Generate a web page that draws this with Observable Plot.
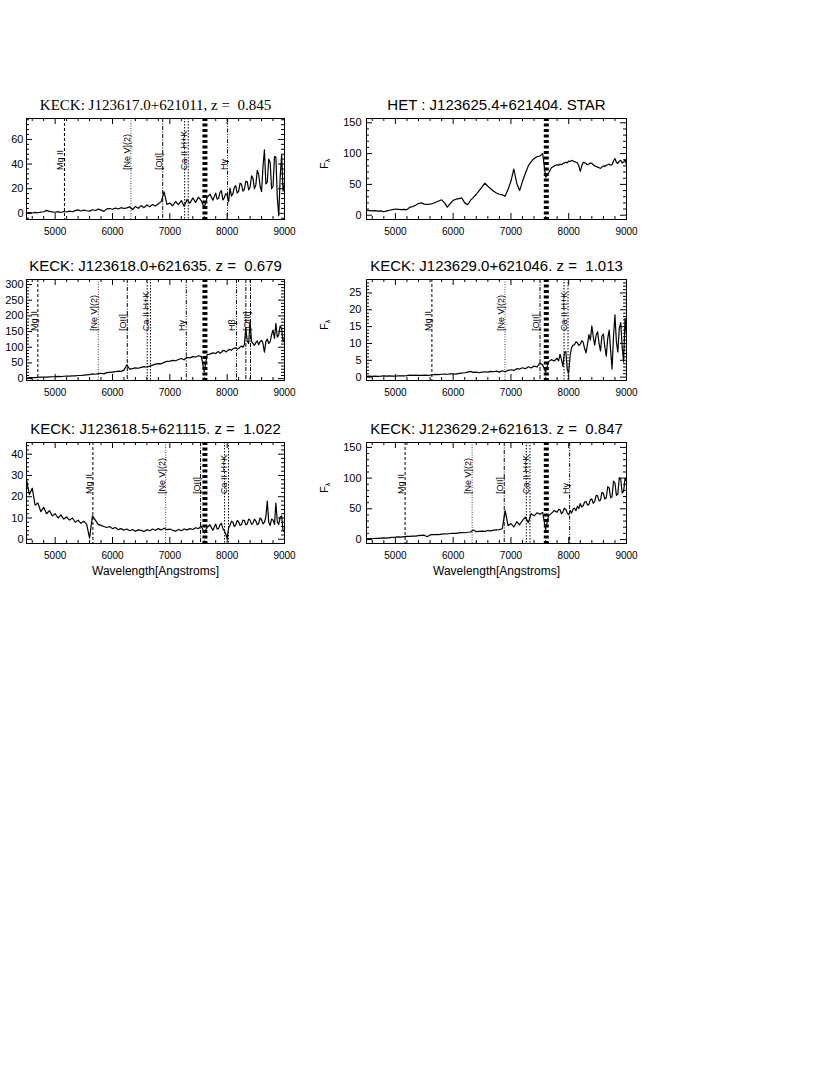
<!DOCTYPE html>
<html><head><meta charset="utf-8">
<script src="https://cdn.jsdelivr.net/npm/d3@7"></script>
<script src="https://cdn.jsdelivr.net/npm/@observablehq/plot@0.6"></script>
<style>
body{margin:0;background:#fff}
#root{position:relative;width:830px;height:1075px;background:#fff}
.panel{position:absolute}
</style>
</head><body><div id="root"></div>
<script>
// ---- data ----
const wavelength = [4500,4550,4600,4650,4700,4750,4800,4850,4900,4950,
  5000,5050,5100,5150,5200,5250,5300,5350,5400,5450,
  5500,5550,5600,5650,5700,5750,5800,5850,5900,5950,
  6000,6050,6100,6150,6200,6250,6300,6350,6400,6450,
  6500,6550,6600,6650,6700,6750,6800,6850,6900,6950,
  7000,7050,7100,7150,7200,7250,7300,7350,7400,7450,
  7500,7550,7600,7650,7700,7750,
  7800,7825,7850,7875, 7900,7925,7950,7975, 8000,8025,8050,8075, 8100,8125,8150,8175,
  8200,8225,8250,8275, 8300,8325,8350,8375, 8400,8425,8450,8475, 8500,8525,8550,8575,
  8600,8625,8650,8675, 8700,8725,8750,8775, 8800,8825,8850,8875, 8900,8925,8950,8975, 9000];

const flux1 = [0.4,0.6,0.3,0.8,0.5,1.0,1.3,2.4,1.6,1.2,
  0.9,1.4,0.7,1.5,1.1,1.8,1.3,2.2,2.8,1.9,
  2.6,2.1,1.8,2.9,2.3,3.4,2.6,1.6,3.6,3.9,
  3.3,4.2,3.5,4.6,3.9,4.4,5.2,3.1,5.6,4.1,
  6.3,4.6,6.8,5.4,7.2,5.9,7.8,9.5,17.5,7.2,
  8.4,6.2,9.6,7.1,10.4,5.8,11.2,8.3,12.5,8.9,
  13.2,10.1,4.5,12.8,15.6,10.7,
  16.4,11.5,12.2,17.0, 18.5,11.0,12.6,16.0, 14.8,9.5,20.5,14.0, 15.9,21.0,22.4,16.5,
  17.8,24.5,23.6,18.0, 19.5,26.0,25.8,19.0, 21.2,30.5,28.4,20.0, 23.1,35.0,31.5,22.0,
  17.6,38.0,51.5,24.0, 25.4,44.0,41.2,20.0, 21.8,46.0,45.6,12.0, -2.0,30.0,47.5,18.0, 24.0];
const flux2 = [8,7.5,7,7.5,6.5,7,5.5,7,8,9,
  10,9.5,9,9.5,9,13,14,16,19,20,
  18,17.5,18,19,21,23,25,20,13,19,
  24,26,27,28,20,17,24,29,34,40,
  46,52,47,43,39,36,34,33,31,42,
  55,75,52,40,55,68,80,87,92,95,
  96,100,62,68,77,80,
  82,81,83,82, 84,85,86,85, 88,87,89,88, 87,86,85,80,
  71,80,86,85, 84,82,83,85, 84,82,80,79, 78,77,76,78,
  80,79,81,82, 83,81,82,88, 92,86,84,88, 89,85,86,90, 82];
const flux3 = [2,3,3.5,3,4,4.5,5,4.5,5.5,6,
  6,7,6.5,7.5,8,8,9,8.5,10,10,
  11,12,13,15,14,16,17,15,19,20,
  21,22,24,23,27,44,30,32,34,33,
  36,38,37,40,43,46,48,47,52,55,
  56,58,57,61,64,60,68,66,70,69,
  73,70,22,76,78,82,
  80,84,86,81, 84,89,90,85, 88,92,93,90, 95,97,98,94,
  96,101,104,100, 108,160,120,112, 182,118,112,106, 115,120,108,118,
  122,112,84,118, 126,112,118,140, 155,128,176,132, 140,168,160,118, 128];
const flux4 = [0.2,0.3,0.2,0.3,0.25,0.3,0.4,0.3,0.35,0.3,
  0.3,0.4,0.35,0.4,0.45,0.6,0.5,0.6,0.55,0.5,
  0.6,0.55,0.6,0.7,0.8,0.75,0.85,0.9,0.85,0.95,
  1.0,0.9,1.1,1.2,1.3,1.5,1.7,1.4,1.5,1.3,
  1.5,1.6,1.5,1.7,1.6,1.8,1.5,1.9,1.6,2.0,
  2.2,2.0,2.5,2.4,2.8,2.5,3.1,2.7,3.3,3.0,
  4.2,3.6,1.5,4.6,5.2,4.8,
  5.6,4.8,6.8,5.2, 3.2,7.2,7.6,2.2, 1.2,6.5,8.8,9.5, 9.6,10.5,10.2,9.4,
  9.8,10.8,10.4,8.5, 7.2,9.8,12.6,11.0, 15.2,12.0,9.5,12.5, 13.5,10.0,7.8,12.2,
  12.8,9.0,6.2,11.5, 14.0,8.0,2.4,12.0, 18.5,10.5,7.5,14.5, 16.2,9.0,4.5,17.5, 12.5];
const flux5 = [28,21,24,16,17,13,15,12,13.5,11,
  12,10,11.5,9.5,10.5,9,10,8,9,7.5,
  8.5,7,0.5,11,9,7,6.5,6,5.5,6,
  5,5.5,4.5,5,4.2,4.8,4,4.6,3.8,4.4,
  4.2,3.6,4.5,4,4.8,4.2,5,4.4,5.2,4.5,
  4.8,4.2,3.8,4.6,4.0,4.8,4.4,5.0,4.6,5.4,
  5.0,6.2,3.0,5.5,6.8,4.2,
  7.2,4.8,5.0,6.8, 7.5,5.0,4.0,2.5, 0.5,5.5,6.5,8.5, 8.0,6.0,6.8,8.8,
  8.2,6.5,7.0,9.0, 8.8,6.8,7.2,9.5, 9.0,7.0,7.6,9.4, 8.6,6.8,7.4,10.0,
  9.2,7.2,8.0,10.5, 18.0,8.0,6.5,9.5, 9.0,7.0,17.0,8.0, 7.0,10.5,11.0,4.0, 3.5];
const flux6 = [1.0,1.5,1.2,2.0,1.8,2.4,2.6,2.4,3.2,3.6,
  3.8,4.2,4.0,4.6,5.0,5.2,5.6,5.4,6.2,6.6,
  7.0,4.5,7.4,7.8,8.2,8.0,8.8,9.2,9.0,9.8,
  10.2,10.0,10.8,11.2,11.0,11.8,12.2,15.5,12.8,13.4,
  13.8,13.2,14.6,14.0,15.2,15.8,16.2,17.5,47.0,22.5,
  26.0,20.5,29.0,24.0,31.0,36.5,27.5,42.0,38.5,43.5,
  41.0,44.0,16.0,38.5,42.5,47.0,
  44.5,49.0,48.5,42.0, 45.0,51.0,49.0,43.0, 40.5,47.0,43.0,49.5, 51.0,47.0,54.0,50.5,
  58.5,53.0,55.0,61.0, 62.0,56.0,57.5,65.0, 66.0,59.0,62.0,72.0, 71.0,63.0,64.0,77.0,
  75.0,66.0,68.0,86.0, 84.0,68.0,70.0,95.0, 92.0,72.0,74.0,101.0, 98.0,76.0,78.0,100.0, 95.0];
const fluxes = [flux1, flux2, flux3, flux4, flux5, flux6];

const titles = [
  "KECK: J123617.0+621011, z =  0.845",
  "HET : J123625.4+621404. STAR",
  "KECK: J123618.0+621635. z =  0.679",
  "KECK: J123629.0+621046. z =  1.013",
  "KECK: J123618.5+621115. z =  1.022",
  "KECK: J123629.2+621613. z =  0.847"
];
const yDomains = [[-5,77],[-7,157],[-6,316],[-1,29],[-2,45.5],[-6.5,158]];
const yTickValues = [[0,20,40,60],[0,50,100,150],[0,50,100,150,200,250,300],[0,5,10,15,20,25],[0,10,20,30,40],[0,50,100,150]];
const yMinorSteps = [4,10,10,1,2,10];
const xTickValues = [5000,6000,7000,8000,9000];
const xMinorStep = 200;
const yAxisTitle = "Fλ";
const xAxisTitle = "Wavelength[Angstroms]";

const lineWl1 = [5162,6321,6876,7258,7321,8007];
const lineLab1 = ["Mg II","[Ne V](2)","[OII]","","Ca II H+K","Hγ"];
const lineKind1 = ["mg","ne","o2","ca","ca","h"];
const lineWl2 = [];
const lineLab2 = [];
const lineKind2 = [];
const lineWl3 = [4698,5752,6258,6605,6662,7287,8162,8326,8407];
const lineLab3 = ["Mg II","[Ne V](2)","[OII]","","Ca II H+K","Hγ","Hβ","","[OIII]"];
const lineKind3 = ["mg","ne","o2","ca","ca","h","h","o3","o3"];
const lineWl4 = [5632,6897,7503,7919,7988];
const lineLab4 = ["Mg II","[Ne V](2)","[OII]","","Ca II H+K"];
const lineKind4 = ["mg","ne","o2","ca","ca"];
const lineWl5 = [5658,6927,7536,7955,8023];
const lineLab5 = ["Mg II","[Ne V](2)","[OII]","","Ca II H+K"];
const lineKind5 = ["mg","ne","o2","ca","ca"];
const lineWl6 = [5168,6328,6884,7266,7329,8016];
const lineLab6 = ["Mg II","[Ne V](2)","[OII]","","Ca II H+K","Hγ"];
const lineKind6 = ["mg","ne","o2","ca","ca","h"];
const lineWls = [lineWl1,lineWl2,lineWl3,lineWl4,lineWl5,lineWl6];
const lineLabs = [lineLab1,lineLab2,lineLab3,lineLab4,lineLab5,lineLab6];
const lineKinds = [lineKind1,lineKind2,lineKind3,lineKind4,lineKind5,lineKind6];
const aBandWl = [7612];

const dashStyles = {mg:"3,2", ne:"1,1.5", o2:"4,1.5,1,1.5", ca:"1.5,1.5", h:"4,1.5,1,1.5,1,1.5", o3:"4,1.5,1,1.5"};
const lineColors = {mg:"#000", ne:"#444", o2:"#000", ca:"#000", h:"#000", o3:"#000"};

// ---- layout ----
const frameTops = [118, 279, 442];
const FONT = "'Liberation Sans', Arial, Helvetica, sans-serif";
const root = document.getElementById("root");

function makePanel(i) {
  const col = i % 2, row = Math.floor(i / 2);
  const [y0, y1] = yDomains[i];
  const mL = col === 0 ? 26 : 66, fw = col === 0 ? 258 : 260;
  const mT = 24, fh = 101, mB = 42, mR = 12;
  const W = mL + fw + mR, H = mT + fh + mB;
  const ky = (y1 - y0) / fh, kx = 4500 / fw;
  const data = wavelength.map((w, j) => ({w, f: fluxes[i][j]}));
  const lines = lineWls[i].map((w, j) => ({w, label: lineLabs[i][j], kind: lineKinds[i][j]}));
  const yt = yTickValues[i], ys = yMinorSteps[i];
  const xMinor = d3.range(4600, 9000, xMinorStep).filter(v => v % 1000 !== 0);
  const yMinor = d3.range(Math.ceil(y0 / ys) * ys, y1, ys).map(v => +v.toFixed(6)).filter(v => !yt.includes(v));
  const yLab = y0 + 0.49 * (y1 - y0);

  const marks = [];
  for (const L of lines) {
    marks.push(Plot.ruleX([L], {x: "w", stroke: lineColors[L.kind], strokeWidth: 1, strokeDasharray: dashStyles[L.kind]}));
  }
  marks.push(Plot.ruleX(aBandWl, {x: d => d, stroke: "black", strokeWidth: 5, strokeDasharray: "3,2.5"}));
  marks.push(Plot.line(data, {x: "w", y: "f", stroke: "black", strokeWidth: 1.2, clip: true}));
  marks.push(Plot.text(lines.filter(d => d.label), {x: "w", y: () => yLab, text: "label", rotate: -90, textAnchor: "start", lineAnchor: "bottom", dx: -1, fontSize: 9, fill: "black"}));
  marks.push(Plot.frame({stroke: "black", strokeWidth: 1}));
  const tx = (vals, len) => [
    Plot.ruleX(vals, {x: d => d, y1: y0, y2: y0 + len * ky, stroke: "black", strokeWidth: 1}),
    Plot.ruleX(vals, {x: d => d, y1: y1, y2: y1 - len * ky, stroke: "black", strokeWidth: 1})
  ];
  const tyy = (vals, len) => [
    Plot.ruleY(vals, {y: d => d, x1: 4500, x2: 4500 + len * kx, stroke: "black", strokeWidth: 1}),
    Plot.ruleY(vals, {y: d => d, x1: 9000, x2: 9000 - len * kx, stroke: "black", strokeWidth: 1})
  ];
  marks.push(...tx(xTickValues, 6), ...tx(xMinor, 3), ...tyy(yt, 6), ...tyy(yMinor, 3));
  marks.push(Plot.axisX({ticks: xTickValues, tickSize: 0, tickPadding: 8, tickFormat: d => String(d), label: null, fontSize: 10}));
  marks.push(Plot.axisY({ticks: yt, tickSize: 0, tickPadding: col === 0 ? 3 : 5, tickFormat: d => String(d), label: null, fontSize: 11}));
  marks.push(Plot.text([titles[i]], {frameAnchor: "top", dy: -13, text: d => d, fontSize: 15, fill: "black", lineAnchor: "middle", fontFamily: i === 0 ? "'Liberation Serif', 'Times New Roman', serif" : FONT}));
  if (col === 1) {
    marks.push(Plot.text([yAxisTitle], {frameAnchor: "left", dx: -42, rotate: -90, text: d => d, fontSize: 11, fill: "black"}));
  }
  if (row === 2) {
    marks.push(Plot.text([xAxisTitle], {frameAnchor: "bottom", dy: 28, text: d => d, fontSize: 12, fill: "black", lineAnchor: "middle"}));
  }

  const svg = Plot.plot({
    width: W, height: H,
    marginLeft: mL, marginRight: mR, marginTop: mT, marginBottom: mB,
    x: {domain: [4500, 9000]},
    y: {domain: [y0, y1]},
    style: {fontFamily: FONT, background: "white", overflow: "visible", color: "black"},
    marks
  });
  d3.select(svg).selectAll("text").filter(function () { return this.textContent === yAxisTitle; }).each(function () {
    const t = d3.select(this);
    t.text(null);
    t.append("tspan").text("F");
    t.append("tspan").attr("font-size", 7).attr("dy", "0.35em").text("λ");
  });
  svg.classList.add("panel");
  svg.style.position = "absolute";
  svg.style.left = (col === 0 ? 0 : 300) + "px";
  svg.style.top = (frameTops[row] - mT) + "px";
  root.appendChild(svg);
}
for (let i = 0; i < 6; i++) makePanel(i);
</script>
</body></html>
